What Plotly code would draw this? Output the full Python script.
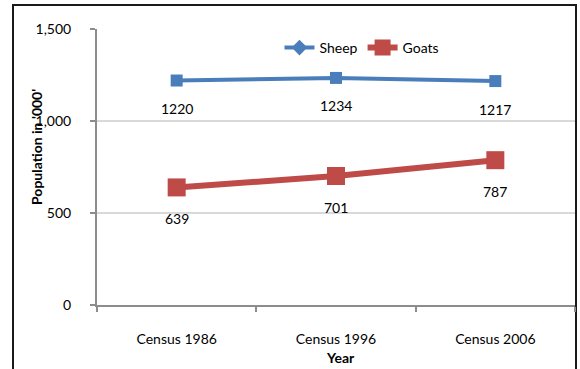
import plotly.graph_objects as go

# Census data: livestock population in thousands
years = ["Census 1986", "Census 1996", "Census 2006"]
sheep = [1220, 1234, 1217]
goats = [639, 701, 787]
y_ticks = [0, 500, 1000, 1500]
y_tick_text = ["0", "500", "1,000", "1,500"]

BLUE = "#4A7EBB"
RED = "#BE4B48"
FONT = "Lato"
SIZE = 14

fig = go.Figure()

# Sheep line (square markers on the data, diamond in the legend)
fig.add_trace(go.Scatter(
    x=years, y=sheep, mode="lines+markers", name="Sheep", showlegend=False,
    line=dict(color=BLUE, width=4),
    marker=dict(symbol="square", size=12, color=BLUE),
))
fig.add_trace(go.Scatter(
    x=[None], y=[None], mode="lines+markers", name="Sheep",
    line=dict(color=BLUE, width=4),
    marker=dict(symbol="diamond", size=12, color=BLUE),
))
fig.add_trace(go.Scatter(
    x=years, y=goats, mode="lines+markers", name="Goats",
    line=dict(color=RED, width=6),
    marker=dict(symbol="square", size=18, color=RED),
))

# Value labels beneath each point
for series, shift in ((sheep, -28), (goats, -31)):
    for x, v in zip(years, series):
        fig.add_annotation(x=x, y=v, text=str(v), showarrow=False,
                           yshift=shift, font=dict(family=FONT, size=SIZE, color="#000"))

# Axis titles
fig.add_annotation(xref="paper", yref="paper", x=(36 - 97) / 478, y=(305 - 147) / 276,
                   xanchor="center", yanchor="middle",
                   text="<b>Population in '000'</b>", textangle=-90, showarrow=False,
                   font=dict(family=FONT, size=SIZE, color="#000"))
fig.add_annotation(xref="paper", yref="paper", x=(340 - 97) / 478, y=(305 - 357) / 276,
                   xanchor="center", yanchor="middle",
                   text="<b>Year</b>", showarrow=False,
                   font=dict(family=FONT, size=SIZE, color="#000"))

# Outer chart border
fig.add_shape(type="rect", xref="paper", yref="paper",
              x0=(13 - 97) / 478, x1=(576 - 97) / 478,
              y0=(305 - 380) / 276, y1=(305 - 5) / 276,
              line=dict(color="#1a1a1a", width=2), layer="below")

fig.update_layout(
    width=580, height=369,
    margin=dict(l=97, r=5, t=29, b=64),
    paper_bgcolor="white", plot_bgcolor="white",
    font=dict(family=FONT, size=SIZE, color="#000"),
    legend=dict(orientation="h", x=(362 - 97) / 478, y=(305 - 48) / 276,
                xanchor="center", yanchor="middle",
                font=dict(family=FONT, size=SIZE, color="#000"),
                bgcolor="rgba(0,0,0,0)"),
    xaxis=dict(
        type="category", range=[-0.5, 2.5], showgrid=False,
        showline=True, linecolor="#8C8C8C", linewidth=2,
        ticks="outside", tickson="boundaries", ticklen=5, tickwidth=2, tickcolor="#8C8C8C",
        ticklabelstandoff=20,
    ),
    yaxis=dict(
        range=[0, 1500], tickvals=y_ticks, ticktext=y_tick_text,
        showgrid=True, gridcolor="#D9D9D9", gridwidth=2,
        showline=True, linecolor="#8C8C8C", linewidth=2,
        ticks="outside", ticklen=5, tickwidth=2, tickcolor="#8C8C8C",
        zeroline=False, ticklabelstandoff=16,
    ),
)

fig.write_html("out.html")
